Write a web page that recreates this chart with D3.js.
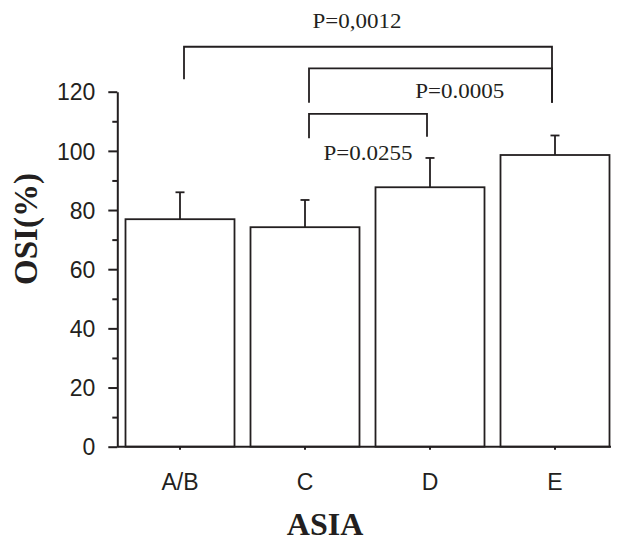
<!DOCTYPE html>
<html lang="en">
<head>
  <meta charset="UTF-8">
  <title>OSI by ASIA grade</title>
  <script src="https://d3js.org/d3.v7.min.js"></script>
  <style>
    body { margin: 0; background: #fff; }
    .tick-label { font-family: "Liberation Sans", Arial, sans-serif; font-size: 23px; fill: #231f20; }
    .p-label { font-family: "Liberation Serif", "Times New Roman", serif; font-size: 21px; fill: #231f20; }
    .axis-title { font-family: "Liberation Serif", "Times New Roman", serif; font-weight: bold; fill: #231f20; }
  </style>
</head>
<body>
  <svg width="624" height="543"></svg>

  <script>
    // values
    const categories = ["A/B", "C", "D", "E"];
    const means = [76.9, 74.2, 87.7, 98.6];
    const sds = [9.1, 9.2, 9.9, 6.6];
    const yTicks = [0, 20, 40, 60, 80, 100, 120];
    const yMinorTicks = [10, 30, 50, 70, 90, 110];

    // significance brackets: from/to category, level of the top line and of each leg end
    const bracketFrom = ["A/B", "C", "C"];
    const bracketTo = ["E", "E", "D"];
    const bracketTop = [135.2, 127.9, 112.5];
    const bracketLeftEnd = [124.2, 116.3, 104.3];
    const bracketRightEnd = [116.3, 116.3, 104.8];
    const bracketLabels = ["P=0,0012", "P=0.0005", "P=0.0255"];
    const labelAlong = [0.47, 0.62, 0.5];
    const labelLevel = [141.5, 117.9, 97.0];

    const ink = "#231f20";
    const svg = d3.select("svg");

    // scales
    const x = d3.scaleBand()
      .domain(categories)
      .range([117.5, 617.5])
      .paddingInner(0.128)
      .paddingOuter(0.064);

    const y = d3.scaleLinear()
      .domain([0, 120])
      .range([446.7, 91.7]);

    const axisX = 117.3;

    // y axis, major ticks
    const yAxis = svg.append("g")
      .attr("transform", `translate(${axisX},0)`)
      .call(d3.axisLeft(y).tickValues(yTicks).tickSize(9).tickSizeOuter(0).tickPadding(13));
    yAxis.select(".domain").attr("stroke", ink).attr("stroke-width", 2);
    yAxis.selectAll(".tick line").attr("stroke", ink).attr("stroke-width", 2);
    yAxis.selectAll(".tick text")
      .attr("class", "tick-label")
      .attr("font-size", null)
      .attr("font-family", null)
      .attr("dy", "0.36em");

    // minor ticks
    const yMinor = svg.append("g")
      .attr("transform", `translate(${axisX},0)`)
      .call(d3.axisLeft(y).tickValues(yMinorTicks).tickSize(5).tickFormat(""));
    yMinor.select(".domain").remove();
    yMinor.selectAll(".tick line").attr("stroke", ink).attr("stroke-width", 2);

    // bars
    svg.selectAll(".bar")
      .data(categories)
      .enter()
      .append("rect")
        .attr("class", "bar")
        .attr("x", d => x(d))
        .attr("y", (d, i) => y(means[i]))
        .attr("width", x.bandwidth())
        .attr("height", (d, i) => y(0) - y(means[i]))
        .attr("fill", "#fff")
        .attr("stroke", ink)
        .attr("stroke-width", 1.8);

    // error bars (upper half only)
    const err = svg.append("g").attr("stroke", ink).attr("stroke-width", 1.8);
    categories.forEach((c, i) => {
      const cx = x(c) + x.bandwidth() / 2;
      err.append("line")
        .attr("x1", cx).attr("x2", cx)
        .attr("y1", y(means[i])).attr("y2", y(means[i] + sds[i]));
      err.append("line")
        .attr("x1", cx - 4.5).attr("x2", cx + 4.5)
        .attr("y1", y(means[i] + sds[i])).attr("y2", y(means[i] + sds[i]));
    });

    // x axis
    const xAxis = svg.append("g")
      .attr("transform", `translate(0,${y(0)})`)
      .call(d3.axisBottom(x).tickSize(3).tickSizeOuter(0));
    xAxis.select(".domain").remove();
    xAxis.selectAll(".tick line").attr("stroke", ink).attr("stroke-width", 2);
    xAxis.selectAll(".tick text")
      .attr("class", "tick-label")
      .attr("font-size", null)
      .attr("font-family", null)
      .attr("y", 43)
      .attr("dy", 0);

    const lastCat = categories[categories.length - 1];
    svg.append("line")
      .attr("x1", axisX).attr("x2", x(lastCat) + x.bandwidth() + 1.5)
      .attr("y1", y(0)).attr("y2", y(0))
      .attr("stroke", ink).attr("stroke-width", 2);

    // brackets
    const br = svg.append("g");
    bracketLabels.forEach((label, i) => {
      const x1 = x(bracketFrom[i]) + x.bandwidth() / 2 + 4;
      const x2 = x(bracketTo[i]) + x.bandwidth() / 2 - 3;
      const path = d3.path();
      path.moveTo(x1, y(bracketLeftEnd[i]));
      path.lineTo(x1, y(bracketTop[i]));
      path.lineTo(x2, y(bracketTop[i]));
      path.lineTo(x2, y(bracketRightEnd[i]));
      br.append("path")
        .attr("d", path.toString())
        .attr("fill", "none")
        .attr("stroke", ink)
        .attr("stroke-width", 1.8);
      br.append("text")
        .attr("class", "p-label")
        .attr("x", x1 + (x2 - x1) * labelAlong[i])
        .attr("y", y(labelLevel[i]))
        .attr("text-anchor", "middle")
        .attr("textLength", 89)
        .attr("lengthAdjust", "spacingAndGlyphs")
        .text(label);
    });

    // axis titles
    svg.append("text")
      .attr("class", "axis-title")
      .attr("font-size", 33)
      .attr("text-anchor", "middle")
      .attr("transform", `translate(37,229) rotate(-90)`)
      .text("OSI(%)");

    svg.append("text")
      .attr("class", "axis-title")
      .attr("font-size", 32)
      .attr("text-anchor", "middle")
      .attr("x", 325)
      .attr("y", 535)
      .text("ASIA");
  </script>
</body>
</html>
